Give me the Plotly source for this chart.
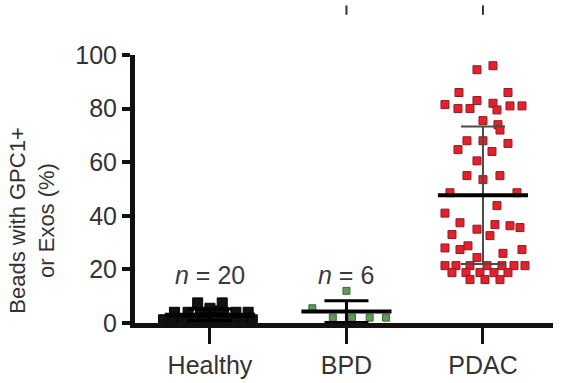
import numpy as np
import plotly.graph_objects as go

categories = ["Healthy", "BPD", "PDAC"]

healthy_vals = [1.2, 1.2, 1.2, 1.2, 1.2, 1.2, 1.2, 1.2, 1.2, 1.2,
                4, 4, 4, 4.5, 4, 4, 4,
                7.5, 5.5, 7.5]
healthy_dx = [-0.34, -0.27, -0.20, -0.12, -0.05, 0.02, 0.10, 0.17, 0.24, 0.31,
              -0.26, -0.16, -0.07, 0.02, 0.10, 0.19, 0.28,
              -0.09, 0.00, 0.09]

bpd_vals = [12, 5.5, 2, 2, 2, 2]
bpd_dx = [0.0, -0.25, -0.10, 0.04, 0.17, 0.29]

pdac_vals = [94.5, 96, 86, 86, 81.5, 80, 80, 83, 82, 79.5, 81, 81, 75.5, 74,
             72, 68, 64.7, 68, 64, 67, 60.5, 55, 55, 53.5, 48.6, 48.6,
             41, 43.8, 37.4, 35, 36.7, 36.3, 35.6, 33, 32.6, 28, 27.4, 28.8, 26, 27.4, 24.4,
             21.4, 21.4, 21.4, 21.4, 21.4, 21.4, 21.4,
             18.8, 18.8, 18.8, 18.8, 18.8,
             16.2, 16.2, 16.2]
pdac_px = [477, 493, 459, 508, 445, 458, 470, 477, 493, 497, 510, 522, 483, 498,
           500, 467, 458, 483, 492, 508, 477, 467, 500, 483, 450, 517,
           445, 497, 460, 477, 495, 510, 520, 452, 490, 445, 460, 468, 503, 522, 477,
           445, 456, 470, 487, 502, 514, 525,
           452, 466, 480, 494, 508,
           470, 485, 500]
pdac_dx = [(p - 483) / 136.5 for p in pdac_px]

n_labels = ["<i>n</i> = 20", "<i>n</i> = 6", "<i>n</i> = 56"]
n_label_y = [17.8, 17.8, 105.5]

groups = [
    (healthy_vals, healthy_dx, "#111111", "#000000", 10),
    (bpd_vals, bpd_dx, "#5d9a55", "#3d6b37", 7),
    (pdac_vals, pdac_dx, "#e5202e", "#8a1f1f", 8),
]

fig = go.Figure()

for i, (vals, dx, fill, edge, sz) in enumerate(groups):
    fig.add_trace(go.Scatter(
        x=[i + d for d in dx], y=vals, mode="markers",
        marker=dict(symbol="square", size=sz, color=fill,
                    line=dict(color=edge, width=1)),
        cliponaxis=False, showlegend=False, hoverinfo="y"))

err_colors = ["#000000", "#000000", "#4a4a4a"]
err_thick = [3, 3, 2]
for i, (vals, dx, fill, edge, sz) in enumerate(groups):
    m = float(np.mean(vals))
    s = float(np.std(vals, ddof=1))
    fig.add_trace(go.Scatter(
        x=[i], y=[m], mode="markers", marker=dict(size=1, color="rgba(0,0,0,0)"),
        error_y=dict(type="data", array=[s], arrayminus=[min(s, m)], color=err_colors[i],
                     thickness=err_thick[i], width=22),
        cliponaxis=False, showlegend=False, hoverinfo="skip"))
    fig.add_trace(go.Scatter(
        x=[i - 0.33, i + 0.33], y=[m, m], mode="lines",
        line=dict(color="#000000", width=4),
        cliponaxis=False, showlegend=False, hoverinfo="skip"))

for i, (t, yv) in enumerate(zip(n_labels, n_label_y)):
    fig.add_annotation(x=i, y=yv, text=t, showarrow=False,
                       font=dict(size=25, color="#3a3a3a"), yanchor="middle")

for i in [1, 2]:
    fig.add_shape(type="line", xref="x", yref="paper", x0=i, x1=i, y0=1.15, y1=1.185,
                  line=dict(color="#333333", width=2))

fig.add_annotation(xref="paper", yref="paper", x=-0.245, y=0.38,
                   text="Beads with GPC1+<br>or Exos (%)", textangle=-90,
                   showarrow=False, xanchor="center", yanchor="middle", align="center",
                   font=dict(size=22, color="#333333"))

fig.update_layout(
    width=566, height=383,
    margin=dict(l=135, r=13, t=55, b=60),
    paper_bgcolor="white", plot_bgcolor="white",
    font=dict(family="Liberation Sans, Arial, sans-serif", size=25, color="#333333"),
    xaxis=dict(range=[-0.549, 2.513], tickvals=[0, 1, 2], ticktext=categories,
               showline=True, linecolor="#111111", linewidth=5,
               ticks="outside", ticklen=16, tickwidth=3, tickcolor="#111111",
               showgrid=False, zeroline=False, layer="above traces", automargin=False,
               tickfont=dict(size=25, color="#333333")),
    yaxis=dict(range=[0, 100], tickvals=[0, 20, 40, 60, 80, 100],
               showline=True, linecolor="#111111", linewidth=5,
               ticks="outside", ticklen=8, tickwidth=4, tickcolor="#111111",
               showgrid=False, zeroline=False, automargin=False,
               tickfont=dict(size=25, color="#333333")),
)

fig.write_html("out.html")
